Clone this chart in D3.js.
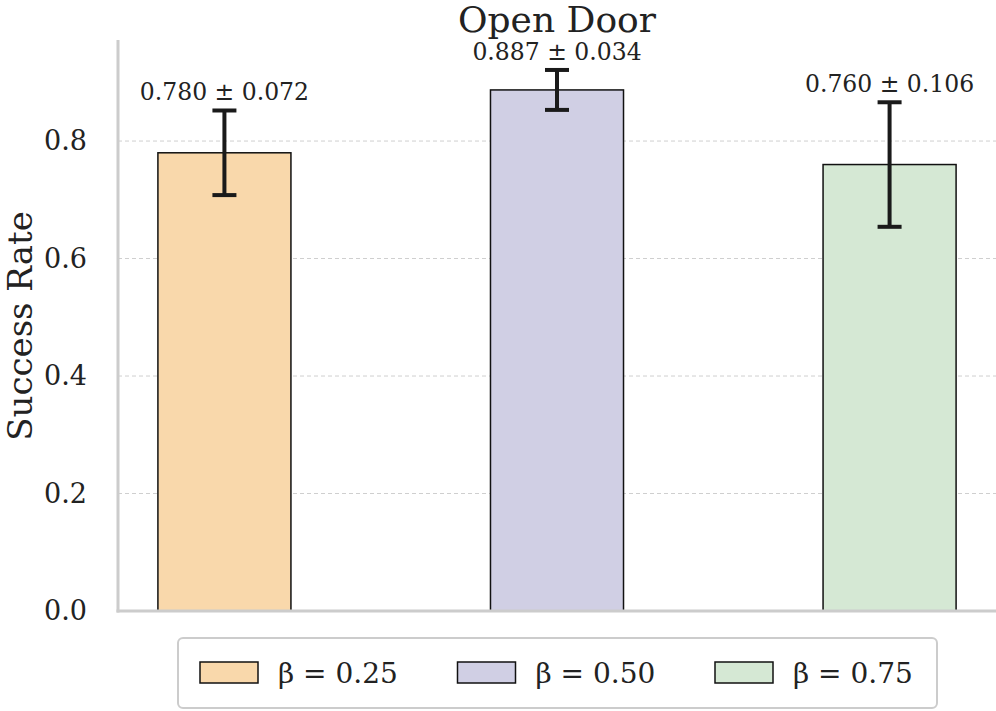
<!DOCTYPE html>
<html>
<head>
<meta charset="utf-8">
<script src="https://cdn.jsdelivr.net/npm/d3@7"></script>
<style>
  body { margin: 0; background: #fff; }
  text { font-family: "DejaVu Serif", serif; fill: #222; }
</style>
</head>
<body>
<svg id="chart" width="996" height="711"></svg>
<script>
// data
var categories = ["β = 0.25", "β = 0.50", "β = 0.75"];
var means = [0.780, 0.887, 0.760];
var errors = [0.072, 0.034, 0.106];
var colors = ["#f9d8ab", "#d0cfe4", "#d5e8d4"];
var yTicks = [0.0, 0.2, 0.4, 0.6, 0.8];

var svg = d3.select("#chart");
var margin = {left: 118, right: 0, top: 40, bottom: 100};
var W = 996, H = 711;

// x: bar index, padded like matplotlib's default margins
var x = d3.scaleLinear().domain([-0.32, 2.32]).range([margin.left, W]);
var y = d3.scaleLinear().domain([0, 0.972]).range([611, margin.top]);
var barW = 0.4;

var g = svg.append("g");

// dashed grid
g.selectAll(".grid").data(yTicks.slice(1))
  .enter().append("line")
  .attr("class", "grid")
  .attr("x1", margin.left).attr("x2", W)
  .attr("y1", function(d) { return y(d); })
  .attr("y2", function(d) { return y(d); })
  .style("stroke", "#cfcfcf")
  .style("stroke-width", 1)
  .style("stroke-dasharray", "4,3");

// y axis
var yAxis = d3.axisLeft(y).tickValues(yTicks).tickFormat(d3.format(".1f")).tickSize(0).tickPadding(31);
var ya = g.append("g").attr("transform", "translate(" + margin.left + ",0)").call(yAxis);
ya.select(".domain").remove();
ya.selectAll("text").style("font-size", "27px").style("font-family", "DejaVu Serif").attr("fill", "#222");

// bars
g.selectAll(".bar").data(means)
  .enter().append("rect")
  .attr("class", "bar")
  .attr("x", function(d, i) { return x(i - barW / 2); })
  .attr("width", function() { return x(barW) - x(0); })
  .attr("y", function(d) { return y(d); })
  .attr("height", function(d) { return y(0) - y(d); })
  .style("fill", function(d, i) { return colors[i]; })
  .style("stroke", "#111")
  .style("stroke-width", 1.5);

// error bars
var eb = g.selectAll(".err").data(means).enter().append("g").attr("class", "err");
eb.append("line")
  .attr("x1", function(d, i) { return x(i); })
  .attr("x2", function(d, i) { return x(i); })
  .attr("y1", function(d, i) { return y(d - errors[i]); })
  .attr("y2", function(d, i) { return y(d + errors[i]); });
eb.append("line")
  .attr("x1", function(d, i) { return x(i) - 12; })
  .attr("x2", function(d, i) { return x(i) + 12; })
  .attr("y1", function(d, i) { return y(d + errors[i]); })
  .attr("y2", function(d, i) { return y(d + errors[i]); });
eb.append("line")
  .attr("x1", function(d, i) { return x(i) - 12; })
  .attr("x2", function(d, i) { return x(i) + 12; })
  .attr("y1", function(d, i) { return y(d - errors[i]); })
  .attr("y2", function(d, i) { return y(d - errors[i]); });
eb.selectAll("line").style("stroke", "#1a1a1a").style("stroke-width", 4);

// value labels
g.selectAll(".val").data(means)
  .enter().append("text")
  .attr("class", "val")
  .attr("x", function(d, i) { return x(i); })
  .attr("y", function(d, i) { return y(d + errors[i]) - 10; })
  .attr("text-anchor", "middle")
  .style("font-size", "23.5px")
  .text(function(d, i) { return d.toFixed(3) + " ± " + errors[i].toFixed(3); });

// spines
g.append("line").attr("x1", margin.left).attr("x2", margin.left)
  .attr("y1", margin.top).attr("y2", y(0) + 1.5)
  .style("stroke", "#cccccc").style("stroke-width", 3);
g.append("line").attr("x1", margin.left - 1.5).attr("x2", W)
  .attr("y1", y(0)).attr("y2", y(0))
  .style("stroke", "#cccccc").style("stroke-width", 3);

// title + y label
svg.append("text").attr("x", 557).attr("y", 32).attr("text-anchor", "middle")
  .style("font-size", "36px").text("Open Door");
svg.append("text")
  .attr("transform", "translate(32,326) rotate(-90)")
  .attr("text-anchor", "middle")
  .style("font-size", "34px").text("Success Rate");

// legend
var lg = svg.append("g").attr("transform", "translate(178,638)");
lg.append("rect").attr("width", 759).attr("height", 70).attr("rx", 5)
  .style("fill", "#fff").style("stroke", "#cccccc").style("stroke-width", 2);
var item = lg.selectAll(".li").data(categories).enter().append("g")
  .attr("class", "li")
  .attr("transform", function(d, i) { return "translate(" + (22 + i * 257.5) + ",0)"; });
item.append("rect").attr("y", 24).attr("width", 58).attr("height", 21)
  .style("fill", function(d, i) { return colors[i]; })
  .style("stroke", "#111").style("stroke-width", 1.5);
item.append("text").attr("x", 78).attr("y", 45)
  .style("font-size", "28px")
  .text(function(d) { return d; });
</script>
</body>
</html>
